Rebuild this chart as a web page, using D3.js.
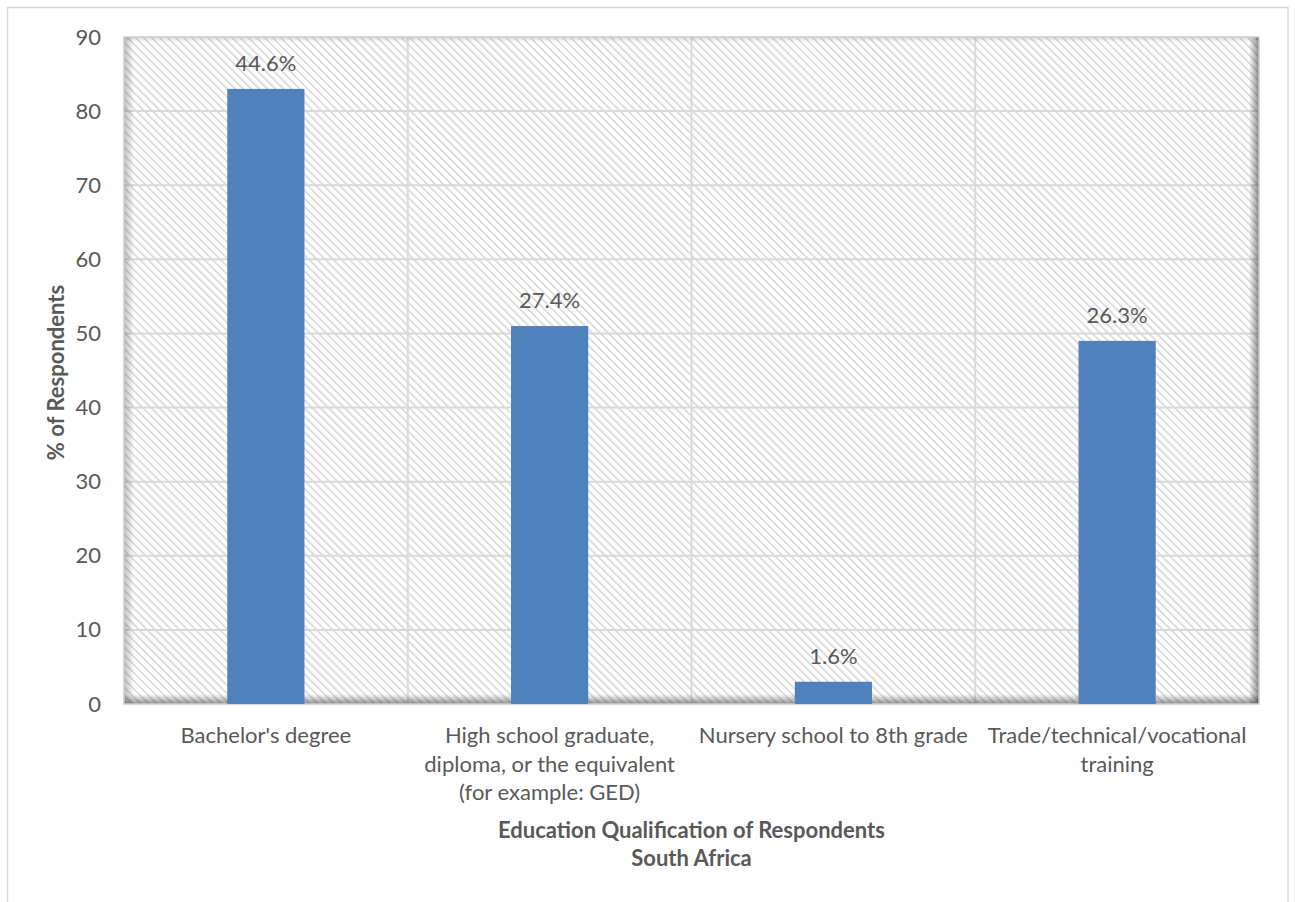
<!DOCTYPE html>
<html>
<head>
<meta charset="utf-8">
<script src="https://cdn.jsdelivr.net/npm/d3@7"></script>
<style>
  html, body { margin: 0; padding: 0; background: #ffffff; }
  svg { display: block; }
  text { font-family: Lato, "Open Sans", sans-serif; fill: #595959; }
</style>
</head>
<body>
<svg id="chart" width="1295" height="902"></svg>
<script>
// Respondent counts by education qualification
const categories = [
  ["Bachelor's degree"],
  ["High school graduate,", "diploma, or the equivalent", "(for example: GED)"],
  ["Nursery school to 8th grade"],
  ["Trade/technical/vocational", "training"]
];
const counts = [83, 51, 3, 49];
const yTicks = [0, 10, 20, 30, 40, 50, 60, 70, 80, 90];
const xTitle = ["Education Qualification of Respondents", "South Africa"];
const yTitle = "% of Respondents";

const total = d3.sum(counts);
const W = 1295, H = 902;
const plot = { left: 124, right: 1259, top: 37, bottom: 704 };
const FONT = 22;

const svg = d3.select("#chart");
const defs = svg.append("defs");

// fine diagonal hatch fill for the plot area
const P = 5.7;
const pat = defs.append("pattern")
  .attr("id", "hatch")
  .attr("patternUnits", "userSpaceOnUse")
  .attr("width", P).attr("height", P)
  .attr("patternTransform", "rotate(-45)");
pat.append("rect").attr("width", P).attr("height", P).attr("fill", "#ffffff");
pat.append("rect").attr("x", 0).attr("y", 0).attr("width", 1.5).attr("height", P).attr("fill", "#d4d4d4");

// inner shadow gradients along the plot edges
function edgeGradient(id, x1, y1, x2, y2, op) {
  const g = defs.append("linearGradient").attr("id", id)
    .attr("x1", x1).attr("y1", y1).attr("x2", x2).attr("y2", y2);
  g.append("stop").attr("offset", "0%").attr("stop-color", "#000").attr("stop-opacity", op);
  g.append("stop").attr("offset", "100%").attr("stop-color", "#000").attr("stop-opacity", 0);
}
edgeGradient("shL", "0", "0", "1", "0", 0.25);
edgeGradient("shR", "1", "0", "0", "0", 0.45);
edgeGradient("shB", "0", "1", "0", "0", 0.42);
edgeGradient("shT", "0", "0", "0", "1", 0.15);

// outer chart border
svg.append("rect")
  .attr("x", 7.5).attr("y", 7.5)
  .attr("width", 1288 - 7.5).attr("height", H + 10)
  .attr("fill", "#fff").attr("stroke", "#d9d9d9").attr("stroke-width", 1.5);

const x = d3.scaleBand()
  .domain(d3.range(categories.length))
  .range([plot.left, plot.right])
  .paddingInner(0).paddingOuter(0);
const y = d3.scaleLinear().domain([0, 90]).range([plot.bottom, plot.top]);

const pw = plot.right - plot.left, ph = plot.bottom - plot.top;

// plot area background
svg.append("rect")
  .attr("x", plot.left).attr("y", plot.top)
  .attr("width", pw).attr("height", ph)
  .attr("fill", "url(#hatch)");

// gridlines
svg.append("g").selectAll("line")
  .data(yTicks.filter(t => t > 0 && t < 90))
  .join("line")
  .attr("x1", plot.left).attr("x2", plot.right)
  .attr("y1", d => y(d)).attr("y2", d => y(d))
  .attr("stroke", "#d9d9d9").attr("stroke-width", 2);
svg.append("g").selectAll("line")
  .data(d3.range(1, categories.length))
  .join("line")
  .attr("x1", d => x(d)).attr("x2", d => x(d))
  .attr("y1", plot.top).attr("y2", plot.bottom)
  .attr("stroke", "#d9d9d9").attr("stroke-width", 2);

// shadows
const sh = 10;
svg.append("rect").attr("x", plot.left).attr("y", plot.top).attr("width", sh).attr("height", ph).attr("fill", "url(#shL)");
svg.append("rect").attr("x", plot.right - sh).attr("y", plot.top).attr("width", sh).attr("height", ph).attr("fill", "url(#shR)");
svg.append("rect").attr("x", plot.left).attr("y", plot.bottom - sh).attr("width", pw).attr("height", sh).attr("fill", "url(#shB)");
svg.append("rect").attr("x", plot.left).attr("y", plot.top).attr("width", pw).attr("height", 5).attr("fill", "url(#shT)");

// plot border
svg.append("rect")
  .attr("x", plot.left).attr("y", plot.top)
  .attr("width", pw).attr("height", ph)
  .attr("fill", "none").attr("stroke", "#cccccc").attr("stroke-width", 1.5);

// bars
const barW = x.bandwidth() * 0.272;
svg.append("g").selectAll("rect")
  .data(counts)
  .join("rect")
  .attr("x", (d, i) => x(i) + (x.bandwidth() - barW) / 2)
  .attr("y", d => y(d))
  .attr("width", barW)
  .attr("height", d => y(0) - y(d))
  .attr("fill", "#4f81bd");

// data labels (share of respondents)
svg.append("g").selectAll("text")
  .data(counts)
  .join("text")
  .attr("x", (d, i) => x(i) + x.bandwidth() / 2)
  .attr("y", d => y(d) - 18)
  .attr("text-anchor", "middle")
  .attr("font-size", FONT)
  .text(d => (d / total * 100).toFixed(1) + "%");

// y axis
const yAxis = d3.axisLeft(y).tickValues(yTicks).tickSize(0).tickPadding(23);
const yg = svg.append("g").attr("transform", `translate(${plot.left},0)`).call(yAxis);
yg.select(".domain").remove();
yg.selectAll("text").attr("font-size", FONT).attr("fill", "#595959")
  .style("font-family", "Lato, 'Open Sans', sans-serif");

// category labels
const catG = svg.append("g");
categories.forEach((lines, i) => {
  const cx = x(i) + x.bandwidth() / 2;
  const t = catG.append("text")
    .attr("x", cx)
    .attr("y", 743)
    .attr("text-anchor", "middle")
    .attr("font-size", FONT);
  lines.forEach((ln, j) => {
    t.append("tspan").attr("x", cx).attr("dy", j === 0 ? 0 : 28.5).text(ln);
  });
});

// axis titles
const tx = (plot.left + plot.right) / 2;
const xt = svg.append("text")
  .attr("x", tx)
  .attr("y", 838)
  .attr("text-anchor", "middle")
  .attr("font-size", FONT)
  .attr("font-weight", "bold");
xTitle.forEach((ln, j) => {
  xt.append("tspan").attr("x", tx).attr("dy", j === 0 ? 0 : 28).text(ln);
});

svg.append("text")
  .attr("transform", `translate(64,${(plot.top + plot.bottom) / 2 + 2}) rotate(-90)`)
  .attr("text-anchor", "middle")
  .attr("font-size", FONT)
  .attr("font-weight", "bold")
  .text(yTitle);
</script>
</body>
</html>
